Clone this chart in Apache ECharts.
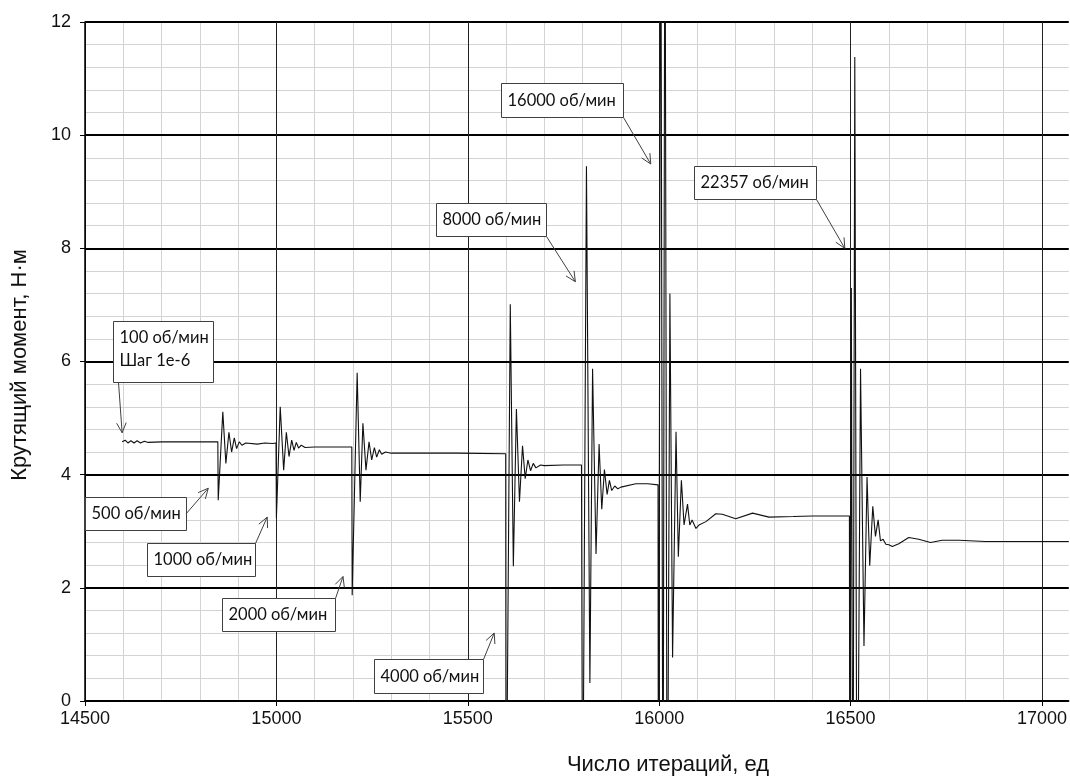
<!DOCTYPE html>
<html><head><meta charset="utf-8">
<script src="https://cdn.jsdelivr.net/npm/echarts@6/dist/echarts.min.js"></script>
<style>html,body{margin:0;padding:0;background:#fff}#c{width:1070px;height:780px}</style>
</head><body><div id="c"></div><script>
// Iteration number (x) and torque, N·m (y)
const iterations = [
  14597,14605,14612,14620,14628,14636,14645,14655,14665,14700,14800,14847,
  14848,14860,14868,14876,14883,14890,14896,14903,14910,14920,14950,14970,14975,14990,14999,
  15000,15010,15019,15026,15033,15040,15046,15052,15058,15065,15075,15100,15150,15197,
  15198,15211,15219,15226,15234,15242,15249,15256,15262,15269,15275,15285,15300,15460,15465,15470,15599,
  15600,15611,15619,15627,15635,15643,15650,15657,15664,15671,15678,15690,15700,15750,15797,
  15800,15810,15819,15826,15835,15843,15850,15857,15864,15870,15876,15884,15892,15900,15939,15970,15997,
  15998,16004,16010,16015,16021,16028,16035,16044,16050,16058,16065,16074,16080,16086,16096,16104,16122,16148,16165,16200,16244,16287,16350,16400,16497,
  16498,16502,16506,16511,16517,16526,16535,16543,16550,16558,16565,16572,16578,16585,16592,16600,16609,16626,16652,16678,16709,16739,16783,16852,16950,17070
];
const torque = [
  4.58,4.61,4.56,4.60,4.56,4.60,4.56,4.59,4.57,4.58,4.58,4.58,
  3.55,5.11,4.20,4.75,4.40,4.65,4.46,4.58,4.52,4.56,4.54,4.56,4.54,4.55,4.56,
  3.23,5.20,4.08,4.75,4.32,4.61,4.43,4.57,4.47,4.52,4.48,4.49,4.49,4.49,
  1.87,5.80,3.52,4.91,4.08,4.58,4.26,4.48,4.31,4.44,4.36,4.40,4.38,4.38,4.35,4.38,4.37,
  -3,7.01,2.38,5.16,3.52,4.51,3.93,4.26,4.07,4.20,4.12,4.17,4.16,4.17,4.17,
  -3,9.45,0.32,5.87,2.60,4.54,3.39,4.09,3.65,3.90,3.72,3.80,3.75,3.78,3.84,3.84,3.82,
  -4,16,-4,16,-4,7.20,0.77,4.76,2.55,3.90,3.11,3.48,3.11,3.20,3.05,3.11,3.17,3.31,3.30,3.22,3.32,3.25,3.26,3.27,3.27,
  -4,7.3,-4,11.38,-4,5.87,0.97,3.96,2.39,3.44,2.91,3.20,2.83,2.86,2.77,2.76,2.73,2.78,2.89,2.86,2.80,2.84,2.84,2.82,2.82,2.82
];
const xTicks = [14500, 15000, 15500, 16000, 16500, 17000];
const yTicks = [0, 2, 4, 6, 8, 10, 12];
const xName = 'Число итераций, ед';
const yName = 'Крутящий момент, Н·м';

// Callouts: text, arrow tip (data), box top-left (data)
const calloutText = [['100 об/мин','Шаг 1е-6'],['500 об/мин'],['1000 об/мин'],['2000 об/мин'],['4000 об/мин'],['8000 об/мин'],['16000 об/мин'],['22357 об/мин']];
const calloutTip = [[14597,4.74],[14822,3.76],[14976,3.25],[15174,2.20],[15569,1.20],[15781,7.41],[15978,9.49],[16485,8.00]];
const calloutBox = [[14572,6.72],[14499,3.60],[14661,2.79],[14857,1.82],[15255,0.74],[15418,8.81],[15587,10.92],[16092,9.45]];
// layout of boxes (pixels) and where the arrow leaves the box (fraction of box)
const boxLayout = [
  {w:100,h:61,from:[0.05,1]},
  {w:101,h:33,from:[1,0.48]},
  {w:108,h:33,from:[1,0]},
  {w:113,h:33,from:[1,0]},
  {w:109,h:34,from:[1,0]},
  {w:110,h:33,from:[1,1]},
  {w:122,h:34,from:[1,1]},
  {w:122,h:33,from:[1,1]}
];

const FONT = '"Liberation Sans", Arial, sans-serif';
const BOXFONT = 'Lato, "Noto Sans", sans-serif';
const XMIN = 14500, XMAX = 17070;
const chart = echarts.init(document.getElementById('c'), null, {renderer:'canvas'});
chart.setOption({
  animation:false,
  grid: {left:85, top:22, right:0, bottom:79, containLabel:false},
  xAxis: [
    {type:'value', position:'bottom', min:XMIN, max:XMAX, interval:100, z:0,
     axisLine:{show:false}, axisTick:{show:false}, axisLabel:{show:false},
     splitLine:{show:true, showMaxLine:false, lineStyle:{color:'#d3d3d3', width:1}}},
    {type:'value', position:'bottom', min:XMIN, max:XMAX, interval:500, z:1,
     axisLine:{show:true, onZero:false, lineStyle:{color:'#000', width:1.5}},
     axisTick:{show:true, length:5, lineStyle:{color:'#000'}},
     axisLabel:{color:'#111', fontSize:18, fontFamily:FONT, margin:9, showMaxLabel:false,
       formatter: v => xTicks.indexOf(v) >= 0 ? String(v) : ''},
     splitLine:{show:true, showMaxLine:false, lineStyle:{color:'#222', width:1}}}
  ],
  yAxis: [
    {type:'value', position:'left', min:0, max:12, interval:0.4, z:0,
     axisLine:{show:false}, axisTick:{show:false}, axisLabel:{show:false},
     splitLine:{show:true, lineStyle:{color:'#d3d3d3', width:1}}},
    {type:'value', position:'left', min:0, max:12, interval:2, z:1,
     axisLine:{show:true, onZero:false, lineStyle:{color:'#000', width:1.5}},
     axisTick:{show:true, length:5, lineStyle:{color:'#000'}},
     axisLabel:{color:'#111', fontSize:18, fontFamily:FONT, margin:14,
       formatter: v => yTicks.indexOf(v) >= 0 ? String(v) : ''},
     splitLine:{show:true, lineStyle:{color:'#000', width:2}}}
  ],
  series: [{
    type:'line', xAxisIndex:1, yAxisIndex:1, symbol:'none', clip:true,
    lineStyle:{color:'#111', width:1.1},
    data: iterations.map((x,i)=>[x, torque[i]])
  }]
});

const graphics = [
  {type:'text', x:20, y:365, rotation:Math.PI/2, z:100,
   style:{text:yName, font:'22px ' + FONT, fill:'#111', align:'center', verticalAlign:'middle'}},
  {type:'text', x:668, y:765, z:100,
   style:{text:xName, font:'22px ' + FONT, fill:'#111', align:'center', verticalAlign:'middle'}}
];
calloutText.forEach((lines, i) => {
  const L = boxLayout[i];
  const b = chart.convertToPixel({seriesIndex:0}, calloutBox[i]);
  const t = chart.convertToPixel({seriesIndex:0}, calloutTip[i]);
  const bx = Math.round(b[0]) + 0.5, by = Math.round(b[1]) + 0.5;
  graphics.push({type:'rect', z:100, shape:{x:bx, y:by, width:L.w, height:L.h},
    style:{fill:'#fff', stroke:'#404040', lineWidth:1}});
  if (lines.length === 1) {
    graphics.push({type:'text', z:101, x:bx+6, y:by+L.h/2,
      style:{text:lines[0], font:'16.5px ' + BOXFONT, fill:'#111', verticalAlign:'middle', align:'left'}});
  } else {
    lines.forEach((ln, k) => graphics.push({type:'text', z:101, x:bx+6, y:by+16.5+k*22.5,
      style:{text:ln, font:'16.5px ' + BOXFONT, fill:'#111', verticalAlign:'middle', align:'left'}}));
  }
  const sx = bx + L.w*L.from[0], sy = by + L.h*L.from[1];
  graphics.push({type:'line', z:102, shape:{x1:sx, y1:sy, x2:t[0], y2:t[1]},
    style:{stroke:'#404040', lineWidth:1}});
  const ang = Math.atan2(t[1]-sy, t[0]-sx), len = 11, spread = 0.45;
  graphics.push({type:'polyline', z:102, shape:{points:[
      [t[0]-len*Math.cos(ang-spread), t[1]-len*Math.sin(ang-spread)],
      [t[0], t[1]],
      [t[0]-len*Math.cos(ang+spread), t[1]-len*Math.sin(ang+spread)]]},
    style:{stroke:'#404040', lineWidth:1, fill:null}});
});
chart.setOption({graphic: graphics});
</script></body></html>
